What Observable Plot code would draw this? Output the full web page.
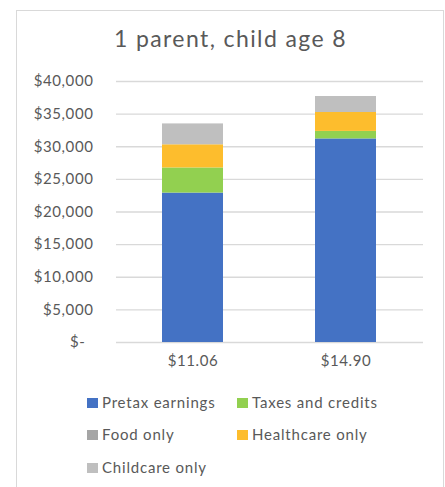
<!DOCTYPE html>
<html>
<head>
<meta charset="utf-8">
<script src="https://cdn.jsdelivr.net/npm/d3@7"></script>
<script src="https://cdn.jsdelivr.net/npm/@observablehq/plot@0.6"></script>
<style>
  html, body { margin: 0; padding: 0; background: #fff; }
  #wrap { position: relative; width: 445px; height: 487px; overflow: hidden; font-family: Lato, "Open Sans", sans-serif; color: #595959; }
  #frame { position: absolute; left: 16px; top: 10px; width: 428px; height: 500px; border: 1px solid #d9d9d9; box-sizing: border-box; }
  #title { position: absolute; left: 17px; width: 427px; top: 25px; line-height: 1.2; text-align: center; font-size: 23px; letter-spacing: 1.4px; color: #595959; }
  #chart { position: absolute; left: 0; top: 0; }
  #chart svg text { letter-spacing: 0.6px; }
  .lg { position: absolute; font-size: 15px; color: #595959; white-space: nowrap; letter-spacing: 0.8px; }
  .sw { position: absolute; width: 11px; height: 10px; }
</style>
</head>
<body>
<div id="wrap">
  <div id="frame"></div>
  <div id="chart"></div>
  <div id="title">1 parent, child age 8</div>
  <div id="legend"></div>
</div>
<script>
const categories = ["$11.06", "$14.90"];
const seriesNames = ["Pretax earnings", "Taxes and credits", "Food only", "Healthcare only", "Childcare only"];
const pretaxEarnings = [22900, 31200];
const taxesAndCredits = [3850, 1150];
const foodOnly = [0, 0];
const healthcareOnly = [3550, 2900];
const childcareOnly = [3200, 2450];
const colors = ["#4472C4", "#92D050", "#A5A5A5", "#FDBD2D", "#BFBFBF"];
const yTicks = [0, 5000, 10000, 15000, 20000, 25000, 30000, 35000, 40000];

const seriesValues = [pretaxEarnings, taxesAndCredits, foodOnly, healthcareOnly, childcareOnly];
const rows = [];
seriesNames.forEach((s, i) => {
  categories.forEach((c, j) => rows.push({category: c, series: s, value: seriesValues[i][j]}));
});

const fmt = d3.format("$,");
const textStyle = {fill: "#595959", fontSize: 15};

const plot = Plot.plot({
  width: 445,
  height: 380,
  marginLeft: 116,
  marginRight: 22,
  marginTop: 81,
  marginBottom: 38,
  style: {fontFamily: "Lato, 'Open Sans', sans-serif", color: "#595959", background: "transparent", overflow: "visible"},
  x: {domain: categories, paddingInner: 0.6, paddingOuter: 0.3, label: null, axis: null},
  y: {domain: [0, 40000], label: null, axis: null},
  color: {domain: seriesNames, range: colors},
  marks: [
    Plot.gridY(yTicks, {stroke: "#d9d9d9", strokeOpacity: 1, strokeWidth: 1.3}),
    Plot.barY(rows, Plot.stackY({x: "category", y: "value", fill: "series", order: null, z: "series"})),
    Plot.axisX({tickSize: 0, tickPadding: 13, fontSize: 15, fill: "#595959", label: null}),
    Plot.text(yTicks.filter(d => d > 0), {y: d => d, text: d => fmt(d), frameAnchor: "left", textAnchor: "end", dx: -23, ...textStyle}),
    Plot.text(yTicks.filter(d => d === 0), {y: d => d, text: d => "$-", frameAnchor: "left", textAnchor: "end", dx: -31, ...textStyle})
  ]
});
document.getElementById("chart").appendChild(plot);

const legendPos = [
  {x: 87, y: 403}, {x: 237, y: 403},
  {x: 87, y: 435}, {x: 237, y: 435},
  {x: 87, y: 468}
];
const legend = document.getElementById("legend");
seriesNames.forEach((s, i) => {
  const p = legendPos[i];
  const sw = document.createElement("div");
  sw.className = "sw";
  sw.style.left = p.x + "px";
  sw.style.top = (p.y - 5) + "px";
  sw.style.background = colors[i];
  legend.appendChild(sw);
  const t = document.createElement("div");
  t.className = "lg";
  t.style.left = (p.x + 15) + "px";
  t.style.top = (p.y - 10) + "px";
  t.textContent = s;
  legend.appendChild(t);
});
</script>
</body>
</html>
